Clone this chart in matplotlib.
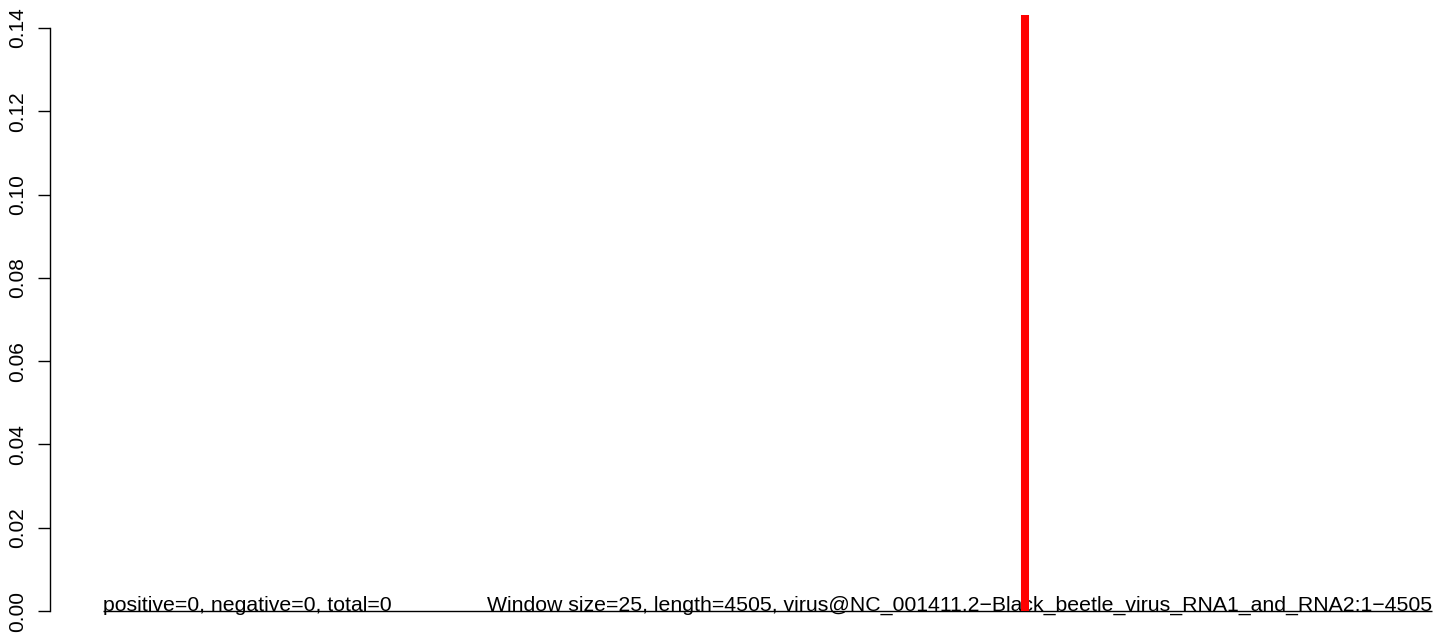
import matplotlib
matplotlib.use("Agg")
import matplotlib.pyplot as plt

# ---- data ----
genome_span = [1, 4505]          # start / end of the sequence
zero_line = [0.0, 0.0]           # baseline values across the sequence
peak_pos = [3126]                # position of the single non-zero window
peak_val = [0.1431]              # its value
y_ticks = [0.00, 0.02, 0.04, 0.06, 0.08, 0.10, 0.12, 0.14]
y_ticklabels = ["0.00", "0.02", "0.04", "0.06", "0.08", "0.10", "0.12", "0.14"]
left_text = "positive=0, negative=0, total=0"
right_text = "Window size=25, length=4505, virus@NC_001411.2\u2212Black_beetle_virus_RNA1_and_RNA2:1\u22124505"

plt.rcParams['font.family'] = ['Liberation Sans', 'DejaVu Sans']

W, H = 1444, 634
fig = plt.figure(figsize=(W / 100, H / 100), dpi=100)
ax_left_px, ax_right_px = 50, 1444
ax_bottom_px, ax_top_px = 611, 15
ax = fig.add_axes([ax_left_px / W, (H - ax_bottom_px) / H,
                   (ax_right_px - ax_left_px) / W, (ax_bottom_px - ax_top_px) / H])

# x scale: genome start at px 103, end at px 1432
s = (1432 - 103) / (genome_span[1] - genome_span[0])
x0 = genome_span[0] - (103 - ax_left_px) / s
x1 = genome_span[1] + (ax_right_px - 1432) / s
ax.set_xlim(x0, x1)
ax.set_ylim(0, 0.1431)

ax.plot(genome_span, zero_line, color="black", lw=1.0, solid_capstyle="butt",
        clip_on=False, zorder=1)
ax.vlines(peak_pos, 0, peak_val, color="red", lw=5.8, capstyle="butt", zorder=3)

ax.text(genome_span[0], 0, left_text, ha="left", va="baseline", fontsize=15.3, zorder=2)
ax.text(genome_span[1], 0, right_text, ha="right", va="baseline", fontsize=15.3, zorder=2)

for sp in ["top", "right", "bottom"]:
    ax.spines[sp].set_visible(False)
ax.spines["left"].set_bounds(0, 0.14)
ax.spines["left"].set_linewidth(1.0)
ax.set_xticks([])
ax.set_yticks(y_ticks)
ax.set_yticklabels(y_ticklabels, rotation=90, va="center", fontsize=15)
ax.tick_params(axis="y", direction="out", length=8.6, width=1.0, pad=8)

fig.savefig("out.png", dpi=100)
